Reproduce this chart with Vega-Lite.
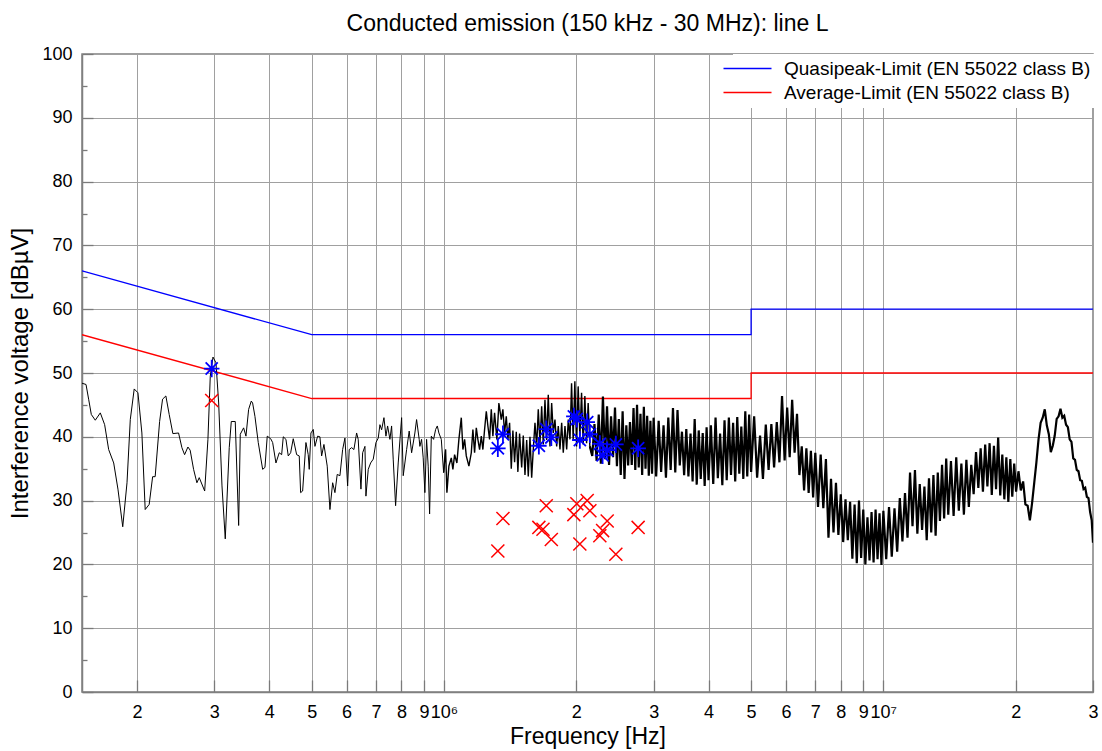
{
  "$schema": "https://vega.github.io/schema/vega-lite/v6.json",
  "width": 1011,
  "height": 638,
  "autosize": {"type": "none"},
  "padding": {"left": 82, "top": 54, "right": 9, "bottom": 59},
  "background": "white",
  "title": {"text": "Conducted emission (150 kHz - 30 MHz): line L", "fontSize": 23, "font": "Liberation Sans", "fontWeight": "normal", "color": "black", "anchor": "middle", "offset": 9},
  "config": {
    "font": "Liberation Sans",
    "view": {"stroke": "#808080", "strokeWidth": 1.5},
    "legend": {"labelFont": "Liberation Sans"}
  },
  "datasets": {
    "limits": [
      {"f": 150000, "v": 66, "s": "Quasipeak-Limit (EN 55022 class B)", "i": 1},
      {"f": 500000, "v": 56, "s": "Quasipeak-Limit (EN 55022 class B)", "i": 2},
      {"f": 5000000, "v": 56, "s": "Quasipeak-Limit (EN 55022 class B)", "i": 3},
      {"f": 5000000, "v": 60, "s": "Quasipeak-Limit (EN 55022 class B)", "i": 4},
      {"f": 30000000, "v": 60, "s": "Quasipeak-Limit (EN 55022 class B)", "i": 5},
      {"f": 150000, "v": 56, "s": "Average-Limit (EN 55022 class B)", "i": 1},
      {"f": 500000, "v": 46, "s": "Average-Limit (EN 55022 class B)", "i": 2},
      {"f": 5000000, "v": 46, "s": "Average-Limit (EN 55022 class B)", "i": 3},
      {"f": 5000000, "v": 50, "s": "Average-Limit (EN 55022 class B)", "i": 4},
      {"f": 30000000, "v": 50, "s": "Average-Limit (EN 55022 class B)", "i": 5}
    ],
    "qp": [
      {"f": 296000, "v": 50.7}, {"f": 1326000, "v": 38.2}, {"f": 1362000, "v": 40.4}, {"f": 1644000, "v": 38.6},
      {"f": 1709000, "v": 41.2}, {"f": 1755000, "v": 39.9}, {"f": 1975000, "v": 43.2}, {"f": 2006000, "v": 42.8},
      {"f": 2038000, "v": 39.5}, {"f": 2118000, "v": 42.3}, {"f": 2148000, "v": 40.4}, {"f": 2263000, "v": 38.9},
      {"f": 2296000, "v": 37.1}, {"f": 2352000, "v": 37.9}, {"f": 2461000, "v": 38.8}, {"f": 2766000, "v": 38.2}
    ],
    "av": [
      {"f": 296000, "v": 45.7}, {"f": 1326000, "v": 22.1}, {"f": 1362000, "v": 27.2}, {"f": 1644000, "v": 25.8},
      {"f": 1680000, "v": 25.5}, {"f": 1709000, "v": 29.2}, {"f": 1755000, "v": 23.9}, {"f": 1975000, "v": 27.8},
      {"f": 2006000, "v": 29.5}, {"f": 2038000, "v": 23.2}, {"f": 2118000, "v": 30.0}, {"f": 2148000, "v": 28.4},
      {"f": 2263000, "v": 24.5}, {"f": 2296000, "v": 25.3}, {"f": 2352000, "v": 26.8}, {"f": 2461000, "v": 21.6},
      {"f": 2766000, "v": 25.8}
    ],
    "trace": [
      {"f":150000,"v":48.4},{"f":153200,"v":48.2},{"f":155400,"v":45.8},{"f":157500,"v":43.5},{"f":160800,"v":42.6},
      {"f":165100,"v":43.75},{"f":168900,"v":41.9},{"f":172500,"v":38.0},{"f":177100,"v":35.9},{"f":181100,"v":31.8},
      {"f":185700,"v":25.9},{"f":189900,"v":32.8},{"f":193200,"v":42.7},{"f":197200,"v":47.5},{"f":201100,"v":46.9},
      {"f":205300,"v":40.6},{"f":208900,"v":28.6},{"f":213300,"v":29.4},{"f":217200,"v":33.75},{"f":220100,"v":33.75},
      {"f":225300,"v":42.4},{"f":228800,"v":45.9},{"f":232800,"v":46.4},{"f":236900,"v":43.5},{"f":241500,"v":40.5},
      {"f":248800,"v":40.6},{"f":253200,"v":38.3},{"f":256800,"v":37.2},{"f":261300,"v":38.4},{"f":264400,"v":37.9},
      {"f":269200,"v":34.9},{"f":273900,"v":32.8},{"f":277300,"v":33.6},{"f":285300,"v":31.5},{"f":290200,"v":39.6},
      {"f":293800,"v":49.5},{"f":298000,"v":52.5},{"f":302700,"v":51.6},{"f":307000,"v":45.3},{"f":312400,"v":32.3},
      {"f":317800,"v":24.0},{"f":324500,"v":38.3},{"f":328000,"v":42.4},{"f":334900,"v":42.4},{"f":340900,"v":26.1},
      {"f":343800,"v":40.4},{"f":349900,"v":41.4},{"f":354200,"v":40.1},{"f":359200,"v":44.3},{"f":364200,"v":45.6},
      {"f":366800,"v":45.3},{"f":371300,"v":43.2},{"f":377800,"v":39.1},{"f":386600,"v":34.9},{"f":391300,"v":35.2},
      {"f":396000,"v":40.1},{"f":403200,"v":39.7},{"f":407400,"v":39.1},{"f":414500,"v":35.9},{"f":421700,"v":37.5},
      {"f":427100,"v":37.2},{"f":430700,"v":40.0},{"f":436800,"v":39.6},{"f":442100,"v":37.0},{"f":447700,"v":37.5},
      {"f":453800,"v":39.7},{"f":462000,"v":37.2},{"f":468300,"v":37.0},{"f":471700,"v":31.25},{"f":476700,"v":31.5},
      {"f":485000,"v":39.1},{"f":490900,"v":37.2},{"f":493500,"v":34.9},{"f":497900,"v":40.6},{"f":504000,"v":41.15},
      {"f":508500,"v":38.5},{"f":515700,"v":40.1},{"f":521900,"v":40.0},{"f":526600,"v":37.0},{"f":533000,"v":38.8},
      {"f":542300,"v":35.4},{"f":550000,"v":28.6},{"f":557900,"v":32.8},{"f":564600,"v":31.25},{"f":571400,"v":34.1},
      {"f":579600,"v":33.9},{"f":587900,"v":38.0},{"f":595000,"v":39.8},{"f":603500,"v":32.3},{"f":608500,"v":38.0},
      {"f":616300,"v":38.3},{"f":623700,"v":38.0},{"f":632600,"v":40.6},{"f":637900,"v":39.6},{"f":647100,"v":31.8},
      {"f":652900,"v":37.5},{"f":660800,"v":38.5},{"f":664200,"v":30.7},{"f":672400,"v":34.9},{"f":680800,"v":35.9},
      {"f":690200,"v":36.5},{"f":700000,"v":39.1},{"f":708500,"v":39.8},{"f":714800,"v":41.9},{"f":721200,"v":41.1},
      {"f":730000,"v":43.0},{"f":737700,"v":40.1},{"f":744200,"v":41.7},{"f":753200,"v":39.6},{"f":759900,"v":41.7},
      {"f":766300,"v":36.5},{"f":776000,"v":29.2},{"f":786700,"v":35.9},{"f":800800,"v":43.0},{"f":807600,"v":33.9},
      {"f":822100,"v":38.0},{"f":833300,"v":40.9},{"f":843900,"v":37.5},{"f":858500,"v":40.6},{"f":866200,"v":42.7},
      {"f":878100,"v":39.6},{"f":881300,"v":38.5},{"f":889200,"v":39.6},{"f":896700,"v":36.7},{"f":904700,"v":31.25},
      {"f":912800,"v":39.6},{"f":920500,"v":35.4},{"f":927300,"v":27.9},{"f":935600,"v":40.1},{"f":947000,"v":39.6},
      {"f":957000,"v":41.15},{"f":965500,"v":41.7},{"f":973600,"v":40.6},{"f":986000,"v":39.6},{"f":998000,"v":34.4},
      {"f":1008400,"v":38.0},{"f":1015300,"v":31.25},{"f":1026000,"v":35.4},{"f":1039000,"v":36.7},{"f":1047700,"v":34.9},
      {"f":1057100,"v":37.2},{"f":1069900,"v":35.9},{"f":1081200,"v":39.6},{"f":1094900,"v":43.0},{"f":1104100,"v":38.0},
      {"f":1114000,"v":39.6},{"f":1123900,"v":37.0},{"f":1139400,"v":35.4},{"f":1153800,"v":37.5},{"f":1163500,"v":41.15},
      {"f":1173900,"v":37.5},{"f":1184400,"v":41.4},{"f":1194300,"v":39.6},{"f":1205100,"v":38.0},{"f":1215900,"v":40.1},
      {"f":1226100,"v":38.0},{"f":1237000,"v":41.15},{"f":1248200,"v":44.0},{"f":1258600,"v":41.7},{"f":1269900,"v":39.6},
      {"f":1281200,"v":44.3},{"f":1292000,"v":40.1},{"f":1303600,"v":43.75},{"f":1319400,"v":39.6},{"f":1333300,"v":45.3},
      {"f":1350100,"v":42.7},{"f":1361500,"v":44.3},{"f":1373700,"v":40.6},{"f":1386000,"v":43.2},{"f":1397700,"v":39.6},
      {"f":1410200,"v":42.2},{"f":1422800,"v":35.0},{"f":1434800,"v":41.0},{"f":1447600,"v":36.0},{"f":1460600,"v":40.8},
      {"f":1472900,"v":34.5},{"f":1486000,"v":40.5},{"f":1502400,"v":35.2},{"f":1515000,"v":40.2},{"f":1528600,"v":34.0},
      {"f":1542300,"v":39.5},{"f":1555300,"v":33.8},{"f":1569200,"v":40.0},{"f":1583200,"v":33.6},{"f":1596600,"v":38.0},
      {"f":1610900,"v":42.2},{"f":1625300,"v":38.5},{"f":1638900,"v":44.3},{"f":1653600,"v":39.0},{"f":1668400,"v":44.8},
      {"f":1682400,"v":38.8},{"f":1697500,"v":45.8},{"f":1712700,"v":39.5},{"f":1727100,"v":46.6},{"f":1742600,"v":38.5},
      {"f":1758100,"v":45.3},{"f":1773000,"v":40.6},{"f":1788800,"v":42.7},{"f":1804800,"v":38.5},{"f":1820000,"v":41.7},
      {"f":1836300,"v":38.0},{"f":1852800,"v":42.2},{"f":1868400,"v":37.5},{"f":1885100,"v":41.7},{"f":1902000,"v":38.0},
      {"f":1918100,"v":42.7},{"f":1935200,"v":39.6},{"f":1951400,"v":48.4},{"f":1967800,"v":39.5},{"f":1985400,"v":48.7},
      {"f":2003200,"v":38.5},{"f":2020000,"v":47.9},{"f":2038200,"v":40.0},{"f":2056400,"v":46.9},{"f":2073800,"v":38.8},
      {"f":2092200,"v":46.4},{"f":2111000,"v":39.0},{"f":2128800,"v":45.3},{"f":2147800,"v":38.5},
      {"f":2175000,"v":37.0},{"f":2200000,"v":42.0},{"f":2225000,"v":36.2},{"f":2250000,"v":43.5},{"f":2275000,"v":35.8},
      {"f":2300000,"v":46.3},{"f":2325000,"v":36.5},{"f":2350000,"v":44.8},{"f":2375000,"v":35.6},{"f":2400000,"v":43.2},
      {"f":2425000,"v":36.8},{"f":2450000,"v":44.6},{"f":2475000,"v":35.4},{"f":2500000,"v":42.8},{"f":2525000,"v":34.0},
      {"f":2550000,"v":44.0},{"f":2575000,"v":33.4},{"f":2600000,"v":41.8},{"f":2625000,"v":35.5},{"f":2650000,"v":42.3},
      {"f":2675000,"v":35.6},{"f":2700000,"v":44.5},{"f":2725000,"v":34.8},{"f":2750000,"v":45.0},{"f":2775000,"v":35.2},
      {"f":2800000,"v":43.6},{"f":2825000,"v":34.0},{"f":2850000,"v":44.7},{"f":2875000,"v":35.0},{"f":2900000,"v":43.3},
      {"f":2925000,"v":33.9},{"f":2950000,"v":42.5},{"f":2975000,"v":34.2},{"f":3000000,"v":43.0},
      {"f":3040000,"v":33.8},{"f":3080000,"v":42.5},{"f":3120000,"v":34.5},{"f":3160000,"v":41.8},{"f":3200000,"v":33.6},
      {"f":3240000,"v":43.0},{"f":3280000,"v":34.8},{"f":3320000,"v":44.5},{"f":3360000,"v":34.4},{"f":3400000,"v":44.2},
      {"f":3440000,"v":35.5},{"f":3480000,"v":40.8},{"f":3520000,"v":34.0},{"f":3560000,"v":41.2},{"f":3600000,"v":33.8},
      {"f":3640000,"v":40.5},{"f":3680000,"v":33.0},{"f":3720000,"v":42.8},{"f":3760000,"v":32.5},{"f":3800000,"v":41.0},
      {"f":3840000,"v":33.4},{"f":3880000,"v":40.6},{"f":3920000,"v":32.3},{"f":3960000,"v":41.5},{"f":4000000,"v":33.2},
      {"f":4050000,"v":41.8},{"f":4100000,"v":32.6},{"f":4150000,"v":43.0},{"f":4200000,"v":33.5},{"f":4250000,"v":40.5},
      {"f":4300000,"v":32.4},{"f":4350000,"v":42.6},{"f":4400000,"v":33.2},{"f":4450000,"v":43.0},{"f":4500000,"v":34.0},
      {"f":4550000,"v":42.2},{"f":4600000,"v":33.0},{"f":4650000,"v":43.1},{"f":4700000,"v":34.2},{"f":4750000,"v":41.6},
      {"f":4800000,"v":33.4},{"f":4850000,"v":44.0},{"f":4900000,"v":33.8},{"f":4950000,"v":43.5},{"f":5000000,"v":34.5},
      {"f":5080000,"v":43.2},{"f":5160000,"v":33.6},{"f":5240000,"v":40.2},{"f":5320000,"v":33.4},{"f":5400000,"v":41.9},
      {"f":5480000,"v":34.8},{"f":5560000,"v":42.0},{"f":5640000,"v":35.2},{"f":5720000,"v":42.3},{"f":5800000,"v":36.0},
      {"f":5880000,"v":46.4},{"f":5960000,"v":36.3},{"f":6040000,"v":44.6},{"f":6120000,"v":36.8},{"f":6200000,"v":45.8},
      {"f":6280000,"v":37.5},{"f":6360000,"v":43.6},{"f":6440000,"v":34.0},{"f":6520000,"v":38.5},{"f":6600000,"v":31.6},
      {"f":6680000,"v":38.2},{"f":6760000,"v":31.2},{"f":6840000,"v":37.8},{"f":6920000,"v":30.5},{"f":7000000,"v":37.5},
      {"f":7100000,"v":29.0},{"f":7200000,"v":37.2},{"f":7300000,"v":28.8},{"f":7400000,"v":36.5},{"f":7500000,"v":24.2},
      {"f":7600000,"v":33.4},{"f":7700000,"v":25.0},{"f":7800000,"v":32.8},{"f":7900000,"v":24.6},{"f":8000000,"v":31.0},
      {"f":8100000,"v":23.5},{"f":8200000,"v":30.2},{"f":8300000,"v":23.8},{"f":8400000,"v":29.8},{"f":8500000,"v":20.9},
      {"f":8600000,"v":29.4},{"f":8700000,"v":20.2},{"f":8800000,"v":30.0},{"f":8900000,"v":21.0},{"f":9000000,"v":28.6},
      {"f":9100000,"v":20.0},{"f":9200000,"v":27.4},{"f":9300000,"v":20.6},{"f":9400000,"v":28.2},{"f":9500000,"v":20.3},
      {"f":9600000,"v":28.6},{"f":9700000,"v":20.8},{"f":9800000,"v":28.0},{"f":9900000,"v":19.9},{"f":10000000,"v":28.4},
      {"f":10150000,"v":20.8},{"f":10300000,"v":29.0},{"f":10450000,"v":21.2},{"f":10600000,"v":28.8},{"f":10750000,"v":22.0},
      {"f":10900000,"v":30.4},{"f":11050000,"v":23.6},{"f":11200000,"v":31.2},{"f":11350000,"v":24.2},{"f":11500000,"v":34.4},
      {"f":11650000,"v":26.0},{"f":11800000,"v":34.8},{"f":11950000,"v":24.8},{"f":12100000,"v":32.6},{"f":12250000,"v":25.4},
      {"f":12400000,"v":32.2},{"f":12550000,"v":23.8},{"f":12700000,"v":33.5},{"f":12850000,"v":25.0},{"f":13000000,"v":34.0},
      {"f":13150000,"v":24.5},{"f":13300000,"v":34.4},{"f":13450000,"v":26.8},{"f":13600000,"v":35.6},{"f":13750000,"v":27.2},
      {"f":13900000,"v":36.6},{"f":14050000,"v":27.8},
      {"f":14250000,"v":36.2},{"f":14450000,"v":27.6},{"f":14650000,"v":36.8},{"f":14850000,"v":28.4},{"f":15050000,"v":35.8},
      {"f":15250000,"v":27.8},{"f":15450000,"v":36.4},{"f":15650000,"v":29.0},{"f":15850000,"v":35.6},{"f":16050000,"v":31.0},
      {"f":16250000,"v":37.6},{"f":16450000,"v":32.0},{"f":16650000,"v":38.2},{"f":16850000,"v":31.4},{"f":17050000,"v":38.8},
      {"f":17250000,"v":32.2},{"f":17450000,"v":39.0},{"f":17650000,"v":30.9},{"f":17850000,"v":38.6},{"f":18050000,"v":31.8},
      {"f":18250000,"v":39.9},{"f":18450000,"v":30.8},{"f":18650000,"v":37.2},{"f":18850000,"v":30.2},{"f":19050000,"v":36.8},
      {"f":19250000,"v":29.8},{"f":19450000,"v":36.5},{"f":19650000,"v":30.6},{"f":19850000,"v":35.8},{"f":20050000,"v":31.4},
      {"f":20300000,"v":34.6},{"f":20550000,"v":31.6},{"f":20800000,"v":33.0},{"f":21050000,"v":29.4},{"f":21300000,"v":29.2},
      {"f":21550000,"v":26.9},{"f":21800000,"v":29.6},{"f":22050000,"v":32.8},{"f":22300000,"v":36.0},{"f":22550000,"v":39.6},
      {"f":22800000,"v":42.2},{"f":23050000,"v":43.0},{"f":23300000,"v":44.3},{"f":23550000,"v":41.8},{"f":23800000,"v":40.4},
      {"f":24050000,"v":37.6},{"f":24300000,"v":38.6},{"f":24550000,"v":40.2},{"f":24800000,"v":42.8},{"f":25050000,"v":43.2},
      {"f":25300000,"v":44.4},{"f":25550000,"v":43.0},{"f":25800000,"v":43.3},{"f":26050000,"v":41.9},{"f":26300000,"v":41.5},
      {"f":26550000,"v":39.6},{"f":26800000,"v":39.2},{"f":27050000,"v":36.6},{"f":27300000,"v":36.4},{"f":27550000,"v":34.8},
      {"f":27800000,"v":34.6},{"f":28050000,"v":33.2},{"f":28300000,"v":33.1},{"f":28550000,"v":31.8},{"f":28800000,"v":32.0},
      {"f":29050000,"v":30.6},{"f":29300000,"v":30.4},{"f":29550000,"v":28.2},{"f":29800000,"v":26.9},{"f":30000000,"v":23.4}
    ]
  },
  "encoding": {
    "x": {
      "field": "f", "type": "quantitative",
      "scale": {"type": "log", "domain": [150000, 30000000], "nice": false, "zero": false},
      "axis": {
        "title": "Frequency [Hz]",
        "values": [200000, 300000, 400000, 500000, 600000, 700000, 800000, 900000, 1000000, 2000000, 3000000, 4000000, 5000000, 6000000, 7000000, 8000000, 9000000, 10000000, 20000000, 30000000],
        "labelExpr": "datum.value == 1000000 ? '10⁶' : datum.value == 10000000 ? '10⁷' : substring(format(datum.value, 'd'), 0, 1)",
        "grid": true, "gridColor": "#a0a0a0", "gridWidth": 1,
        "ticks": true, "tickSize": -12, "tickColor": "#7a7a7a", "tickWidth": 1.3,
        "domainColor": "#808080", "domainWidth": 1.5,
        "labelPadding": 23, "labelFontSize": 18, "labelColor": "black", "labelFont": "Liberation Sans",
        "labelOverlap": false, "labelFlush": false,
        "titleFontSize": 23, "titleFontWeight": "normal", "titleColor": "black", "titleFont": "Liberation Sans", "titlePadding": 4
      }
    },
    "y": {
      "field": "v", "type": "quantitative",
      "scale": {"domain": [0, 100], "nice": false, "zero": false},
      "axis": {
        "title": "Interference voltage [dBµV]",
        "values": [0, 5, 10, 15, 20, 25, 30, 35, 40, 45, 50, 55, 60, 65, 70, 75, 80, 85, 90, 95, 100],
        "labelExpr": "datum.value % 10 == 0 ? datum.label : ''",
        "grid": true, "gridColor": "#a0a0a0", "gridWidth": 1,
        "gridOpacity": {"condition": {"test": "datum.value % 10 != 0", "value": 0}, "value": 1},
        "ticks": true,
        "tickSize": {"condition": {"test": "datum.value % 10 != 0", "value": -5}, "value": -11},
        "tickColor": "#7a7a7a", "tickWidth": 1.3,
        "domainColor": "#808080", "domainWidth": 1.5,
        "labelPadding": 21, "labelFontSize": 18, "labelColor": "black", "labelFont": "Liberation Sans",
        "labelOverlap": false,
        "titleFontSize": 24, "titleFontWeight": "normal", "titleColor": "black", "titleFont": "Liberation Sans", "titlePadding": 9
      }
    }
  },
  "layer": [
    {
      "data": {"name": "limits"},
      "mark": {"type": "line", "strokeWidth": 1.3, "clip": true},
      "encoding": {
        "order": {"field": "i", "type": "quantitative"},
        "color": {
          "field": "s", "type": "nominal",
          "scale": {"domain": ["Quasipeak-Limit (EN 55022 class B)", "Average-Limit (EN 55022 class B)"], "range": ["#0000ff", "#ff0000"]},
          "legend": {
            "orient": "none", "legendX": 651, "legendY": 0, "title": null,
            "symbolType": "M-3,0L3,0", "symbolSize": 256, "symbolStrokeWidth": 1.4,
            "labelFontSize": 19, "labelColor": "black", "labelFont": "Liberation Sans", "labelOffset": 27, "labelLimit": 400,
            "rowPadding": 4, "fillColor": "white", "padding": 5
          }
        }
      }
    },
    {
      "data": {"name": "trace"},
      "transform": [{"filter": "datum.f <= 1008400"}],
      "mark": {"type": "line", "color": "black", "strokeWidth": 1, "clip": true},
      "encoding": {}
    },
    {
      "data": {"name": "trace"},
      "transform": [{"filter": "datum.f >= 998000 && datum.f <= 2175000"}],
      "mark": {"type": "line", "color": "black", "strokeWidth": 1.4, "clip": true},
      "encoding": {}
    },
    {
      "data": {"name": "trace"},
      "transform": [{"filter": "datum.f >= 2147800"}],
      "mark": {"type": "line", "color": "black", "strokeWidth": 2.2, "clip": true},
      "encoding": {}
    },
    {
      "data": {"name": "qp"},
      "mark": {"type": "point", "filled": false, "color": "#0000ff", "strokeWidth": 1.8, "size": 300, "opacity": 1,
               "shape": "M0,-1L0,1M-0.9,0L0.9,0M-0.7,-0.7L0.7,0.7M-0.7,0.7L0.7,-0.7"},
      "encoding": {}
    },
    {
      "data": {"name": "av"},
      "mark": {"type": "point", "filled": false, "color": "#ff0000", "strokeWidth": 1.5, "size": 170, "opacity": 1,
               "shape": "M-1,-1L1,1M-1,1L1,-1"},
      "encoding": {}
    }
  ]
}
